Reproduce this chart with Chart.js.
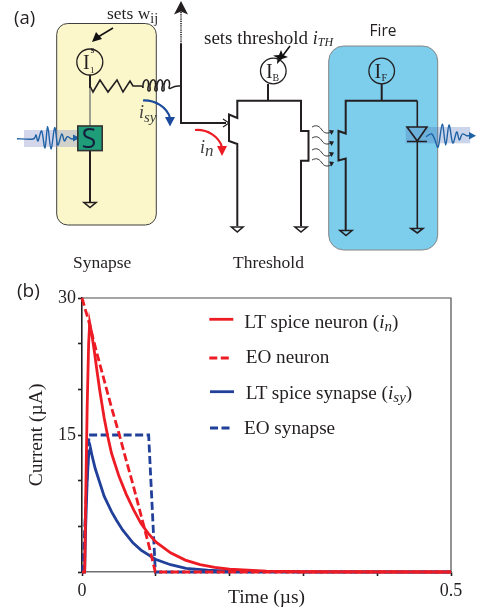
<!DOCTYPE html>
<html>
<head>
<meta charset="utf-8">
<title>Neuron circuit and currents</title>
<script src="https://cdn.jsdelivr.net/npm/chart.js@4"></script>
<style>
  html, body { margin: 0; padding: 0; background: #fff; }
  #wrap { position: relative; width: 477px; height: 612px; overflow: hidden; }
  #chart { position: absolute; left: 0; top: 0; }
  #overlay { position: absolute; left: 0; top: 0; pointer-events: none; }
  .serif { font-family: 'Liberation Serif', serif; fill: #231f20; }
  .sans { font-family: 'Open Sans', sans-serif; fill: #231f20; }
  .w { fill: none; stroke: #231f20; stroke-width: 1.6; stroke-linejoin: miter; }
  .thick { stroke-width: 2; }
</style>
</head>
<body>
<div id="wrap">
  <canvas id="chart" width="477" height="612"></canvas>
  <svg id="overlay" width="477" height="612" viewBox="0 0 477 612">
    <text class="sans" x="14" y="24" font-size="18.5">(a)</text>
    <text class="sans" x="17" y="297" font-size="19">(b)</text>

    <!-- synapse block -->
    <rect x="56.7" y="23.5" width="99.6" height="201.5" rx="11" fill="#fbf7cb" stroke="#3f3f3f" stroke-width="1"/>
    <rect x="24" y="130" width="53" height="17" fill="#8f94cc" opacity="0.38"/>
    <path id="waveIn" fill="none" stroke="#1f63a5" stroke-width="1.4"/>
    <path d="M73 134.5 L80 138 L73 141.5 Z" fill="#1f63a5"/>
    <circle cx="89.8" cy="62" r="13" fill="none" stroke="#231f20" stroke-width="1.3"/>
    <text class="serif" x="83" y="69" font-size="20">I</text>
    <text class="serif" x="90" y="73" font-size="9">1</text>
    <text class="serif" x="90.5" y="53" font-size="10">s</text>
    <path class="w thick" d="M90 75 V88"/>
    <path class="w" d="M90 88 V126" style="stroke:#8a8a80"/>
    <path class="w" d="M90 86 L93 92 L100 80 L108 92 L117 80 L123 92 L130 81 L133 86 H141"/>
    <path class="w" d="M141 86 c1 0 2 1 2 2 c-1 -11 8 -11 5 0 c-1 4 3 4 2 0 c-1 -11 8 -11 5 0 c-1 4 3 4 2 0 c-1 -11 8 -11 5 0 c-1 4 3 4 2 0 c-1 -11 8 -11 5 0 c1 2 3 -2 9 -2 H181"/>
    <rect x="77.8" y="126" width="24.4" height="24.6" fill="#1f9d79" stroke="#333" stroke-width="1.6"/>
    <text class="sans" x="81.5" y="148" font-size="27" style="fill:#14213d">S</text>
    <path class="w thick" d="M90 151 V202"/>
    <path class="w" d="M84 202.5 H96 L90 207.5 Z"/>

    <!-- output line with dotted riser -->
    <path class="w thick" d="M181 44 V123 H226"/>
    <path d="M181 44 V12" fill="none" stroke="#231f20" stroke-width="1.6" stroke-dasharray="1.2 1"/>
    <path d="M181 1 L188 14.5 L181 11.5 L174 14.5 Z" fill="#231f20"/>
    <path class="w" d="M223 119 L229 123 L223 127" style="stroke-width:1.2"/>
    <path d="M113 28 L98 37" stroke="#111" stroke-width="1.5" fill="none"/>
    <path d="M92 42 L96 32 L102 39 Z" fill="#111"/>
    <text class="serif" x="107" y="19" font-size="17.5">sets w<tspan dy="4" font-size="14">ij</tspan></text>

    <!-- current labels -->
    <path d="M143 100.5 C155 100 167 107 170 118" fill="none" stroke="#1c4a9c" stroke-width="2.2"/>
    <path d="M165 117 L175 117 L170 126.5 Z" fill="#1c4a9c"/>
    <text class="serif" x="139" y="118" font-size="18" font-style="italic" style="fill:#3f3f3f">i<tspan dy="4" font-size="15">sy</tspan></text>
    <path d="M195 130 C208 129 219 137 222 147" fill="none" stroke="#ed1c24" stroke-width="2.2"/>
    <path d="M217 146 L227 146 L222 156 Z" fill="#ed1c24"/>
    <text class="serif" x="200" y="153" font-size="18" font-style="italic" style="fill:#3f3f3f">i<tspan dy="3" font-size="17">n</tspan></text>

    <!-- threshold block -->
    <text class="serif" x="204" y="44" font-size="19">sets threshold <tspan font-style="italic" font-size="18">i</tspan><tspan font-style="italic" dy="2" font-size="12">TH</tspan></text>
    <path d="M290 46 L281 58" stroke="#111" stroke-width="1.5" fill="none"/>
    <path d="M277 64 L277.5 58 L273 55.5 L279 55 L281 50 L283 55 L288 57 L282 59 Z" fill="#111"/>
    <circle cx="273.3" cy="71" r="12.8" fill="none" stroke="#231f20" stroke-width="1.3"/>
    <text class="serif" x="266" y="78" font-size="20">I</text>
    <text class="serif" x="272.5" y="81" font-size="10">B</text>
    <path class="w thick" d="M268 84 V100.7"/>
    <path class="w thick" d="M301 226 V160.7 H308.5 V131 H301 V100.7 H237.3 V118 L229 114.5 V141 L237.3 144 V226"/>
    <path class="w" d="M231.5 227 H243 L237.3 232 Z"/>
    <path class="w" d="M295 227 H307 L301 232 Z"/>
    <text class="serif" x="233" y="268" font-size="17.5">Threshold</text>
    <text class="serif" x="73" y="268" font-size="17.5">Synapse</text>

    <!-- fire block -->
    <text class="sans" x="369.5" y="36" font-size="15.5">Fire</text>
    <rect x="328.7" y="46" width="109" height="204" rx="15" fill="#7dcdec" stroke="#868686" stroke-width="1"/>
    <rect x="405.7" y="127" width="64.5" height="16.3" fill="#3f63b5" opacity="0.28"/>
    <circle cx="381.7" cy="71" r="12.8" fill="none" stroke="#231f20" stroke-width="1.3"/>
    <text class="serif" x="374.5" y="78" font-size="20">I</text>
    <text class="serif" x="381.5" y="81" font-size="10">F</text>
    <path class="w thick" d="M381.7 84 V100.7"/>
    <path class="w thick" d="M345.7 230 V158.5 L338.5 160.5 V131 L345.7 133.5 V100.7 H417.3"/>
    <path class="w" d="M417.3 100.7 V127 M407 127 H427 L417.3 141 Z M407 141.5 H427 M417.3 141 V228"/>
    <path class="w" d="M340 230.5 H352 L346 235.5 Z"/>
    <path class="w" d="M411 228.5 H423 L417.3 233 Z"/>
    <path id="waveOut" fill="none" stroke="#1f63a5" stroke-width="1.4"/>
    <path d="M469 132 L476 135.7 L469 139.5 Z" fill="#1f63a5"/>

    <!-- photons between threshold and fire -->
    <g fill="none" stroke="#231f20" stroke-width="0.9">
      <path d="M312 127 c5 -3 8 0 10 3 c2 3 5 4 9 2"/>
      <path d="M312 138 c5 -3 8 0 10 3 c2 3 5 4 9 2"/>
      <path d="M312 150 c5 -3 8 0 10 3 c2 3 5 4 9 2"/>
      <path d="M312 160 c5 -3 8 0 10 3 c2 3 5 4 9 2"/>
    </g>
    <g fill="#231f20">
      <path d="M329 130 L334 130.5 L331.5 135 Z"/>
      <path d="M329 141 L334 141.5 L331.5 146 Z"/>
      <path d="M329 152 L334 152.5 L331.5 157 Z"/>
      <path d="M329 161.5 L334 162 L331.5 166.5 Z"/>
    </g>

    <!-- legend -->
    <g id="legendKeys"></g>
    <text class="serif" x="244.3" y="328" font-size="19.2">LT spice neuron (<tspan font-style="italic">i</tspan><tspan font-style="italic" dy="3" font-size="15">n</tspan><tspan dy="-3">)</tspan></text>
    <text class="serif" x="245.7" y="363" font-size="19.2">EO neuron</text>
    <text class="serif" x="245.7" y="399" font-size="19.2">LT spice synapse (<tspan font-style="italic">i</tspan><tspan font-style="italic" dy="3" font-size="15">sy</tspan><tspan dy="-3">)</tspan></text>
    <text class="serif" x="244" y="434" font-size="19.2">EO synapse</text>
  </svg>
</div>

<script>
// ---- Data (time in us, current in uA) ----
const spiceNeuronTime = [0, 0.0036, 0.005, 0.007, 0.009, 0.0104, 0.013, 0.017, 0.02, 0.024, 0.03, 0.035, 0.04, 0.05, 0.06, 0.07, 0.08, 0.09, 0.1, 0.12, 0.14, 0.16, 0.18, 0.2, 0.25, 0.3, 0.5];
const spiceNeuronCurrent = [0, 0, 8, 18, 25, 27.3, 26.2, 24, 22.2, 19.9, 16.9, 14.8, 13, 10.5, 8.5, 6.8, 5.3, 4.2, 3.3, 2.1, 1.3, 0.8, 0.5, 0.3, 0.1, 0.03, 0];

const eoNeuronTime = [0, 0.01, 0.02, 0.03, 0.04, 0.05, 0.06, 0.07, 0.08, 0.09, 0.0994, 0.12, 0.5];
const eoNeuronCurrent = [30, 27.2, 24, 21, 18, 15.2, 12.2, 9.3, 6.2, 3.1, 0, 0, 0];

const spiceSynapseTime = [0, 0.0036, 0.005, 0.007, 0.009, 0.0114, 0.014, 0.018, 0.024, 0.03, 0.04, 0.0465, 0.055, 0.069, 0.08, 0.0994, 0.12, 0.141, 0.17, 0.2, 0.3, 0.5];
const spiceSynapseCurrent = [0, 0, 5, 10, 12.8, 13.6, 12.6, 11.3, 9.8, 8.3, 6.6, 5.7, 4.6, 3.2, 2.4, 1.4, 0.8, 0.4, 0.2, 0.1, 0.01, 0];

const eoSynapseTime = [0, 0.001, 0.0095, 0.0903, 0.0994, 0.5];
const eoSynapseCurrent = [0, 0, 15, 15, 0, 0];

const xTickLabels = [0, 0.5];
const yTickLabels = [15, 30];

const RED = '#ed1c24';
const BLUE = '#21409a';

// ---- Schematic wave pulses ----
const waveInPoints = [[17, 138.7], [33, 139], [36, 135], [38, 141], [41.7, 131], [45, 148], [47.7, 126.7], [51, 149], [54.7, 127.7], [57.7, 145], [61.7, 134], [64.3, 141], [67.3, 136.7], [71.7, 139], [76, 138]];
const waveOutPoints = [[426, 136.7], [431.7, 134], [435, 140], [438.3, 146.7], [442.3, 124.3], [445.7, 145], [449, 125], [452.7, 143], [456.7, 132], [459.3, 140], [462.3, 134], [466.7, 135.7], [471, 135.7]];

// smooth curve through every point (Catmull-Rom as cubic segments)
function wavePath(pts) {
  let d = `M${pts[0][0]} ${pts[0][1]}`;
  for (let i = 0; i < pts.length - 1; i++) {
    const p0 = pts[Math.max(i - 1, 0)], p1 = pts[i], p2 = pts[i + 1], p3 = pts[Math.min(i + 2, pts.length - 1)];
    const c1 = [p1[0] + (p2[0] - p0[0]) / 6, p1[1] + (p2[1] - p0[1]) / 6];
    const c2 = [p2[0] - (p3[0] - p1[0]) / 6, p2[1] - (p3[1] - p1[1]) / 6];
    d += ` C${c1[0]} ${c1[1]} ${c2[0]} ${c2[1]} ${p2[0]} ${p2[1]}`;
  }
  return d;
}
document.getElementById('waveIn').setAttribute('d', wavePath(waveInPoints));
document.getElementById('waveOut').setAttribute('d', wavePath(waveOutPoints));

// ---- Legend keys ----
const legendKeys = [
  { x1: 209.3, x2: 233.3, y: 319.3, color: RED, dash: '' },
  { x1: 209.3, x2: 230, y: 358, color: RED, dash: '8 3.5' },
  { x1: 210, x2: 234, y: 391.7, color: BLUE, dash: '' },
  { x1: 210, x2: 231, y: 428, color: BLUE, dash: '8 3.5' },
];
document.getElementById('legendKeys').innerHTML = legendKeys.map(k =>
  `<line x1="${k.x1}" x2="${k.x2}" y1="${k.y}" y2="${k.y}" stroke="${k.color}" stroke-width="2.8" stroke-dasharray="${k.dash}"/>`
).join('');

// ---- Chart ----
function toPoints(xs, ys) {
  return xs.map((x, i) => ({ x, y: ys[i] }));
}

function lineSet(label, xs, ys, color, dash) {
  return {
    label,
    data: toPoints(xs, ys),
    borderColor: color,
    borderWidth: 2.8,
    borderDash: dash,
    pointRadius: 0,
    tension: 0,
    clip: false,
  };
}

// top and right sides of the frame
const framePlugin = {
  id: 'frame',
  beforeDatasetsDraw(chart) {
    const { ctx, chartArea: a } = chart;
    ctx.save();
    ctx.strokeStyle = '#4d4d4f';
    ctx.lineWidth = 1.2;
    ctx.beginPath();
    ctx.moveTo(a.left, a.top);
    ctx.lineTo(a.right, a.top);
    ctx.lineTo(a.right, a.bottom);
    ctx.stroke();
    ctx.restore();
  }
};

const tickFont = { family: "'Liberation Serif', serif", size: 18 };
const titleFont = { family: "'Liberation Serif', serif", size: 19.5 };

new Chart(document.getElementById('chart'), {
  type: 'line',
  data: {
    datasets: [
      lineSet('EO neuron', eoNeuronTime, eoNeuronCurrent, RED, [8, 3.5]),
      lineSet('LT spice neuron', spiceNeuronTime, spiceNeuronCurrent, RED, []),
      lineSet('LT spice synapse', spiceSynapseTime, spiceSynapseCurrent, BLUE, []),
      lineSet('EO synapse', eoSynapseTime, eoSynapseCurrent, BLUE, [8, 3.5]),
    ]
  },
  options: {
    responsive: false,
    animation: false,
    layout: { padding: { top: 298, right: 26, left: 0, bottom: 0 } },
    plugins: { legend: { display: false }, tooltip: { enabled: false } },
    scales: {
      x: {
        type: 'linear',
        min: 0,
        max: 0.5,
        afterFit: (s) => { s.height = 40; },
        border: { color: '#6d6e71', width: 1.4 },
        grid: { drawOnChartArea: false, drawTicks: true, tickLength: 4, tickColor: '#231f20', tickWidth: 1.6 },
        ticks: {
          stepSize: 0.1,
          maxRotation: 0,
          autoSkip: false,
          padding: 4,
          color: '#231f20',
          font: tickFont,
          callback: (v) => {
            const r = Math.round(v * 10) / 10;
            return xTickLabels.includes(r) ? String(r) : '';
          }
        },
        title: { display: true, text: 'Time (µs)', color: '#231f20', font: titleFont, padding: { top: 0, bottom: 2 } },
      },
      y: {
        min: 0,
        max: 30,
        afterFit: (s) => { s.width = 82; },
        border: { color: '#231f20', width: 1.6 },
        grid: { drawOnChartArea: false, drawTicks: true, tickLength: 4, tickColor: '#231f20', tickWidth: 1.6 },
        ticks: {
          stepSize: 5,
          autoSkip: false,
          padding: 2,
          color: '#231f20',
          font: tickFont,
          callback: (v) => yTickLabels.includes(v) ? String(v) : ''
        },
        title: { display: true, text: 'Current (µA)', color: '#231f20', font: titleFont, padding: { top: 25, bottom: 0 } },
      }
    }
  },
  plugins: [framePlugin]
});
</script>
</body>
</html>
